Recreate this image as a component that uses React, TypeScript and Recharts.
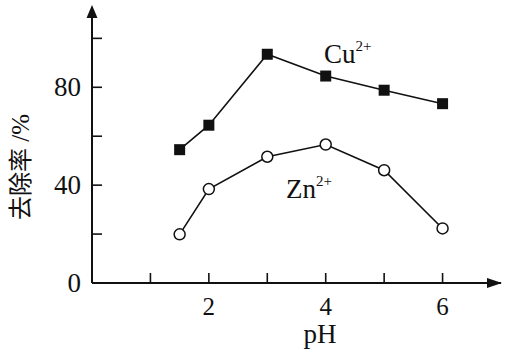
import { LineChart, Line, XAxis, YAxis, ReferenceDot } from "recharts";

const ph = [1.5, 2, 3, 4, 5, 6];
const cuRemoval = [54.5, 64.5, 93.5, 84.6, 78.8, 73.3];
const znRemoval = [19.9, 38.4, 51.6, 56.6, 46.1, 22.3];

const xTicks = [1, 2, 3, 4, 5, 6];
const xLabelled = [2, 4, 6];
const yTicks = [0, 20, 40, 60, 80, 100];
const yLabelled = [0, 40, 80];

const data = ph.map((p, i) => ({ ph: p, cu: cuRemoval[i], zn: znRemoval[i] }));

const serif = { fontFamily: '"Liberation Serif", "DejaVu Serif", serif' };
const cjk = { fontFamily: '"Noto Sans CJK SC", sans-serif' };

function XTick({ x, y, payload }: any) {
  const v = payload.value;
  return (
    <g>
      <line x1={x} y1={y} x2={x} y2={y - 10} stroke="#111" strokeWidth={1.6} />
      {xLabelled.includes(v) && (
        <text x={x} y={y + 32} textAnchor="middle" fontSize={25} style={serif} fill="#111">
          {v}
        </text>
      )}
    </g>
  );
}

function YTick({ x, y, payload }: any) {
  const v = payload.value;
  return (
    <g>
      <line x1={x} y1={y} x2={x + 10} y2={y} stroke="#111" strokeWidth={1.6} />
      {yLabelled.includes(v) && (
        <text x={x - 11} y={y + 9} textAnchor="end" fontSize={27} style={serif} fill="#111">
          {v}
        </text>
      )}
    </g>
  );
}

function Square({ cx, cy }: any) {
  return <rect x={cx - 5.5} y={cy - 5.5} width={11} height={11} fill="#111" />;
}

function Circle({ cx, cy }: any) {
  return <circle cx={cx} cy={cy} r={5.5} fill="#fff" stroke="#111" strokeWidth={1.5} />;
}

const ArrowRight = ({ cx, cy }: any) => (
  <path d={`M${cx + 1},${cy} L${cx - 14},${cy - 5} L${cx - 14},${cy + 5} Z`} fill="#111" />
);
const ArrowUp = ({ cx, cy }: any) => (
  <path d={`M${cx},${cy - 4} L${cx - 5.5},${cy + 9} L${cx + 5.5},${cy + 9} Z`} fill="#111" />
);

const ionLabel = (base: string) => ({ cx, cy }: any) => (
  <text x={cx} y={cy} style={serif} fill="#111">
    <tspan fontSize={27}>{base}</tspan>
    <tspan fontSize={15} dy={-12}>2+</tspan>
  </text>
);

export default function App() {
  return (
    <div style={{ position: "absolute", left: 0, top: 0, background: "#fff" }}>
      <LineChart
        width={505}
        height={359}
        data={data}
        margin={{ top: 9, right: 4, bottom: 0, left: 0 }}
      >
        <XAxis
          dataKey="ph"
          type="number"
          domain={[0, 7]}
          ticks={xTicks}
          height={76}
          tickSize={0}
          tickMargin={0}
          axisLine={{ stroke: "#111", strokeWidth: 2 }}
          tickLine={false}
          tick={<XTick />}
          interval={0}
        />
        <YAxis
          type="number"
          domain={[0, 112]}
          ticks={yTicks}
          width={92}
          tickSize={0}
          tickMargin={0}
          axisLine={{ stroke: "#111", strokeWidth: 2 }}
          tickLine={false}
          tick={<YTick />}
          interval={0}
          label={{
            content: () => (
              <text
                transform="translate(29,167) rotate(-90)"
                textAnchor="middle"
                fill="#111"
                fontSize={24}
              >
                <tspan style={cjk}>去除率</tspan>
                <tspan style={serif} fontSize={25}> /%</tspan>
              </text>
            ),
          }}
        />
        <Line
          dataKey="cu"
          type="linear"
          stroke="#111"
          strokeWidth={1.6}
          dot={<Square />}
          activeDot={false}
          isAnimationActive={false}
        />
        <Line
          dataKey="zn"
          type="linear"
          stroke="#111"
          strokeWidth={1.6}
          dot={<Circle />}
          activeDot={false}
          isAnimationActive={false}
        />
        <ReferenceDot x={7} y={0} ifOverflow="visible" shape={<ArrowRight />} />
        <ReferenceDot x={0} y={112} ifOverflow="visible" shape={<ArrowUp />} />
        <ReferenceDot x={3.97} y={89.9} ifOverflow="visible" shape={ionLabel("Cu")} />
        <ReferenceDot x={3.32} y={34.7} ifOverflow="visible" shape={ionLabel("Zn")} />
        <text x={320} y={343} textAnchor="middle" fontSize={27} style={serif} fill="#111">
          pH
        </text>
      </LineChart>
    </div>
  );
}
